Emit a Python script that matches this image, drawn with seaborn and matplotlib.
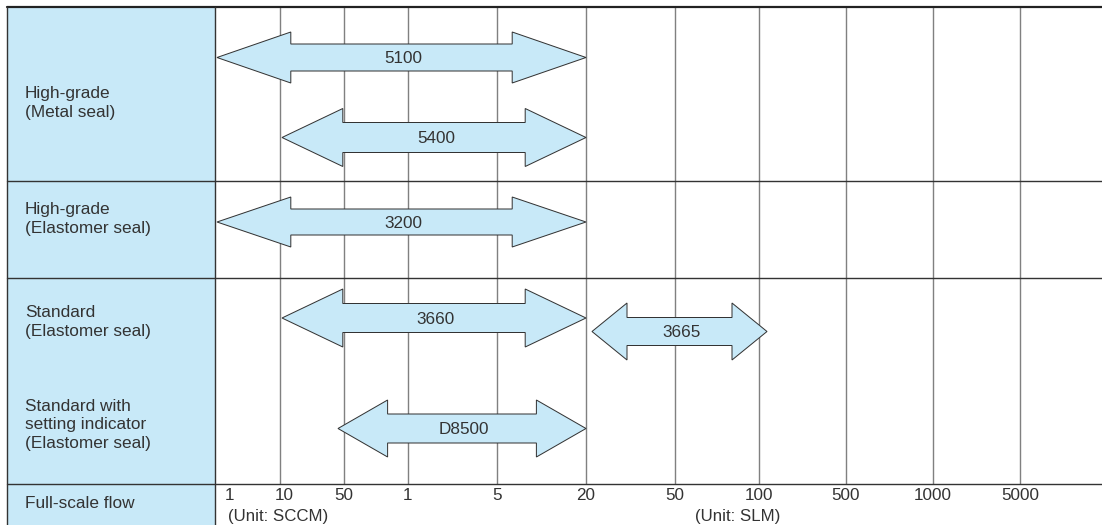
import matplotlib
matplotlib.use("Agg")
import matplotlib.pyplot as plt
from matplotlib.patches import Polygon, Rectangle
import numpy as np
import seaborn as sns

# ---------------- data ----------------
row_labels = ["High-grade\n(Metal seal)", "High-grade\n(Elastomer seal)",
              "Standard\n(Elastomer seal)",
              "Standard with\nsetting indicator\n(Elastomer seal)",
              "Full-scale flow"]
tick_labels = ["1", "10", "50", "1", "5", "20", "50", "100", "500", "1000", "5000"]
unit_labels = ["(Unit: SCCM)", "(Unit: SLM)"]
models = ["5100", "5400", "3200", "3660", "3665", "D8500"]
range_start = [0, 1, 0, 1, 5, 2]   # index into tick_labels
range_end = [5, 5, 5, 5, 7, 5]

# ---------------- layout / style ----------------
W, H = 1102, 525
tick_x = [217, 280, 344, 408, 497, 586, 675, 759, 846, 933, 1020]
grid_idx = list(range(1, 11))
left, col_edge, top = 7, 215, 7
row_lines = [181, 278, 484]
label_y = [103, 219, 322, 425, 503]
arrow_y = [57.5, 137.5, 222, 318, 331.5, 428.5]
head_half = [25.5, 29, 25, 29, 28.5, 28.5]
shaft_half = [13.5, 15, 13, 14.5, 14, 14.5]
start_nudge = [0, 2, 0, 2, 6, -6]
end_nudge = [0, 0, 0, 0, 8, 0]

BLUE = "#C8E9F8"
DARK = "#333333"
GRID = "#808080"

sns.set_theme(style="white")
plt.rcParams["font.family"] = ["Liberation Sans", "DejaVu Sans"]

fig = plt.figure(figsize=(W / 100, H / 100), dpi=100)
ax = fig.add_axes([0, 0, 1, 1])
ax.set_xlim(0, W)
ax.set_ylim(H, 0)
ax.axis("off")

px = 0.72  # points per pixel

# label column
ax.add_patch(Rectangle((left, top), col_edge - left, H - top + 5,
                       facecolor=BLUE, edgecolor="none", zorder=0))

# vertical grid lines
for i in grid_idx:
    ax.plot([tick_x[i], tick_x[i]], [top, row_lines[-1]], color=GRID,
            lw=1.4 * px, zorder=1, solid_capstyle="butt")

# borders
ax.plot([left, W], [top, top], color="#222222", lw=2.2 * px, zorder=3)
ax.plot([left, left], [top, H], color=DARK, lw=1.4 * px, zorder=3)
ax.plot([col_edge, col_edge], [top, H], color=DARK, lw=1.4 * px, zorder=3)
for y in row_lines:
    ax.plot([left, W], [y, y], color=DARK, lw=1.4 * px, zorder=3)

# row labels
for txt, y in zip(row_labels, label_y):
    ax.text(25, y, txt, ha="left", va="center", fontsize=12.4,
            color=DARK, linespacing=1.3)

# arrows
for m, s, e, y, hh, sh, sn, en in zip(models, range_start, range_end, arrow_y,
                                      head_half, shaft_half, start_nudge, end_nudge):
    x0 = tick_x[s] + sn
    x1 = tick_x[e] + en
    hl = 0.2 * (x1 - x0)
    pts = [(x0, y), (x0 + hl, y - hh), (x0 + hl, y - sh), (x1 - hl, y - sh),
           (x1 - hl, y - hh), (x1, y), (x1 - hl, y + hh), (x1 - hl, y + sh),
           (x0 + hl, y + sh), (x0 + hl, y + hh)]
    ax.add_patch(Polygon(pts, closed=True, facecolor=BLUE, edgecolor=DARK,
                         lw=1.0 * px, zorder=4, joinstyle="miter"))
    ax.text((x0 + x1) / 2 + 2, y + 1, m, ha="center", va="center",
            fontsize=12.3, color=DARK, zorder=5)

# tick labels
for i, t in enumerate(tick_labels):
    if i == 0:
        ax.text(tick_x[i] + 13, 495.5, t, ha="center", va="center",
                fontsize=12.3, color=DARK)
    else:
        ax.text(tick_x[i] + (4 if i == 1 else 0), 495.5, t, ha="center",
                va="center", fontsize=12.3, color=DARK)

ax.text(228, 516, unit_labels[0], ha="left", va="center", fontsize=12.2, color=DARK)
ax.text(738, 516, unit_labels[1], ha="center", va="center", fontsize=12.2, color=DARK)

fig.savefig("out.png", dpi=100)
